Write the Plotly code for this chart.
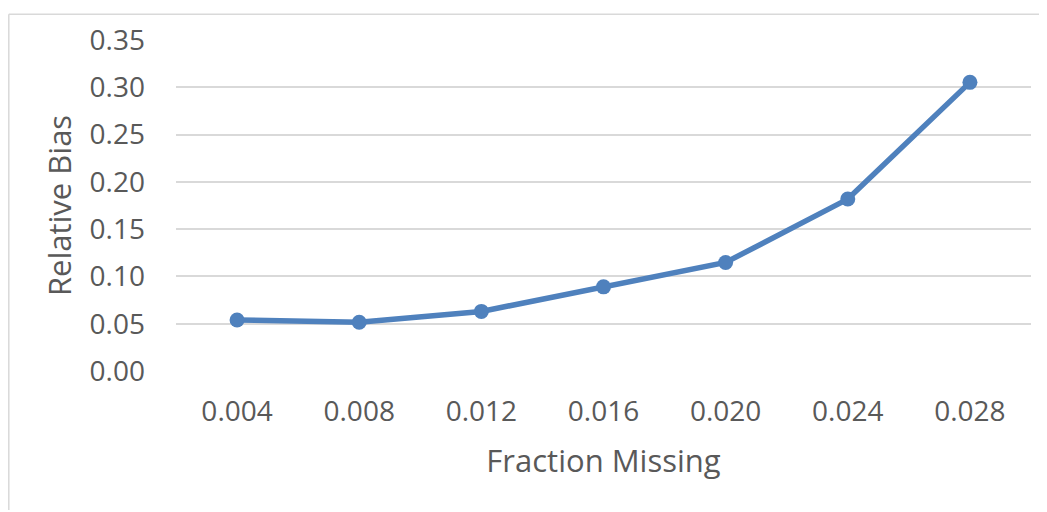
import plotly.graph_objects as go

categories = ["0.004", "0.008", "0.012", "0.016", "0.020", "0.024", "0.028"]
relative_bias = [0.054, 0.0515, 0.063, 0.089, 0.1148, 0.1818, 0.3052]
y_ticks = [0.0, 0.05, 0.10, 0.15, 0.20, 0.25, 0.30, 0.35]

# page body has an 8px margin, so the figure is offset by 8px
OFF = 8
W, H = 1047 - OFF, 512 - OFF
L, R, T, B = 176 - OFF, 16, 35 - OFF, 141

fig = go.Figure()
fig.add_trace(go.Scatter(
    x=categories, y=relative_bias, mode="lines+markers",
    line=dict(color="#4F81BD", width=5.5),
    marker=dict(color="#4F81BD", size=15),
    showlegend=False,
))

font_family = "Open Sans, Lato, sans-serif"
txt = "#595959"

fig.update_layout(
    width=W, height=H,
    margin=dict(l=L, r=R, t=T, b=B),
    paper_bgcolor="white", plot_bgcolor="white",
    font=dict(family=font_family, color=txt, size=28),
    xaxis=dict(
        type="category", range=[-0.5, 6.5],
        showgrid=False, zeroline=False, showline=False,
        ticks="", ticklabelstandoff=21,
        tickfont=dict(size=28, color=txt),
        title=dict(text="Fraction Missing", font=dict(size=31, color=txt), standoff=22),
    ),
    yaxis=dict(
        range=[0, 0.35], tickvals=y_ticks, tickformat=".2f",
        showgrid=True, gridcolor="#D9D9D9", gridwidth=1.5,
        zeroline=False, showline=False, ticks="",
        ticklabelstandoff=30,
        tickfont=dict(size=28, color=txt),
        title=dict(text="Relative Bias", font=dict(size=31, color=txt), standoff=8),
    ),
)

pw, ph = W - L - R, H - T - B
x0 = (0.8 - L) / pw
y1 = 1 + (T - 0.8) / ph
fig.add_shape(type="line", xref="paper", yref="paper", x0=x0, x1=x0, y0=-B / ph, y1=y1,
              line=dict(color="#D9D9D9", width=1.5))
fig.add_shape(type="line", xref="paper", yref="paper", x0=x0, x1=(W - L) / pw, y0=y1, y1=y1,
              line=dict(color="#D9D9D9", width=1.5))

fig.write_html("out.html")
